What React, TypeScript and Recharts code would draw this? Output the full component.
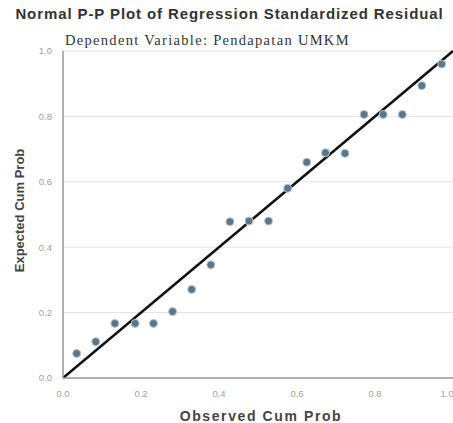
import {
  ScatterChart,
  Scatter,
  XAxis,
  YAxis,
  CartesianGrid,
  ReferenceLine,
  Label,
} from 'recharts';

const observed = [
  0.035, 0.084, 0.133, 0.185, 0.232, 0.281, 0.33, 0.379, 0.428, 0.477,
  0.527, 0.576, 0.625, 0.673, 0.723, 0.772, 0.821, 0.87, 0.92, 0.971,
];
const expected = [
  0.075, 0.111, 0.167, 0.167, 0.167, 0.203, 0.271, 0.346, 0.478, 0.48,
  0.48, 0.58, 0.66, 0.689, 0.687, 0.806, 0.806, 0.806, 0.894, 0.96,
];
const ticks = [0, 0.2, 0.4, 0.6, 0.8, 1];

const points = observed.map((x, i) => ({ x, y: expected[i] }));

export default function App() {
  return (
    <div style={{ position: 'relative', width: 453, height: 423, background: '#fff' }}>
      <style>{`body{margin:0}`}</style>
      <div
        style={{
          position: 'absolute',
          top: 5,
          left: 3,
          width: 453,
          textAlign: 'center',
          fontFamily: 'Liberation Sans, Arial, sans-serif',
          fontWeight: 'bold',
          fontSize: 15,
          letterSpacing: 0.9,
          whiteSpace: 'nowrap',
          color: '#333',
        }}
      >
        Normal P-P Plot of Regression Standardized Residual
      </div>
      <div
        style={{
          position: 'absolute',
          top: 32,
          left: 65,
          fontFamily: 'Liberation Serif, Times New Roman, serif',
          fontSize: 14.5,
          letterSpacing: 1.3,
          whiteSpace: 'nowrap',
          color: '#333',
        }}
      >
        Dependent Variable: Pendapatan UMKM
      </div>
      <ScatterChart
        width={453}
        height={423}
        margin={{ top: 51, right: 0, bottom: 0, left: 0 }}
        style={{ fontFamily: 'Liberation Sans, Arial, sans-serif' }}
      >
        <CartesianGrid vertical={false} stroke="#e2e2e2" />
        <XAxis
          type="number"
          dataKey="x"
          domain={[0, 1]}
          ticks={ticks}
          tickFormatter={(v: number) => v.toFixed(1)}
          tick={{ fontSize: 9.5, fill: '#a0a0a0' }}
          tickLine={false}
          axisLine={{ stroke: '#999', strokeWidth: 1.5 }}
          height={45}
          tickMargin={6}
        >
          <Label
            value="Observed Cum Prob"
            position="insideBottom"
            offset={2}
            dx={3}
            style={{ fontSize: 14, fontWeight: 'bold', fill: '#444', letterSpacing: 1.6 }}
          />
        </XAxis>
        <YAxis
          type="number"
          dataKey="y"
          domain={[0, 1]}
          ticks={ticks}
          tickFormatter={(v: number) => v.toFixed(1)}
          tick={{ fontSize: 9.5, fill: '#a0a0a0' }}
          tickLine={false}
          axisLine={{ stroke: '#999', strokeWidth: 1.5 }}
          width={63}
          tickMargin={5}
        >
          <Label
            value="Expected Cum Prob"
            angle={-90}
            position="insideLeft"
            offset={19}
            dy={-4}
            style={{ fontSize: 13, fontWeight: 'bold', fill: '#444', textAnchor: 'middle' }}
          />
        </YAxis>
        <ReferenceLine
          segment={[
            { x: 0, y: 0 },
            { x: 1, y: 1 },
          ]}
          stroke="#111"
          strokeWidth={2.5}
        />
        <Scatter
          data={points}
          fill="#5a7890"
          isAnimationActive={false}
          shape={(p: any) => <circle cx={p.cx} cy={p.cy} r={4} fill="#5b7589" stroke="#b8c8d6" strokeWidth={1} />}
        />
      </ScatterChart>
    </div>
  );
}
